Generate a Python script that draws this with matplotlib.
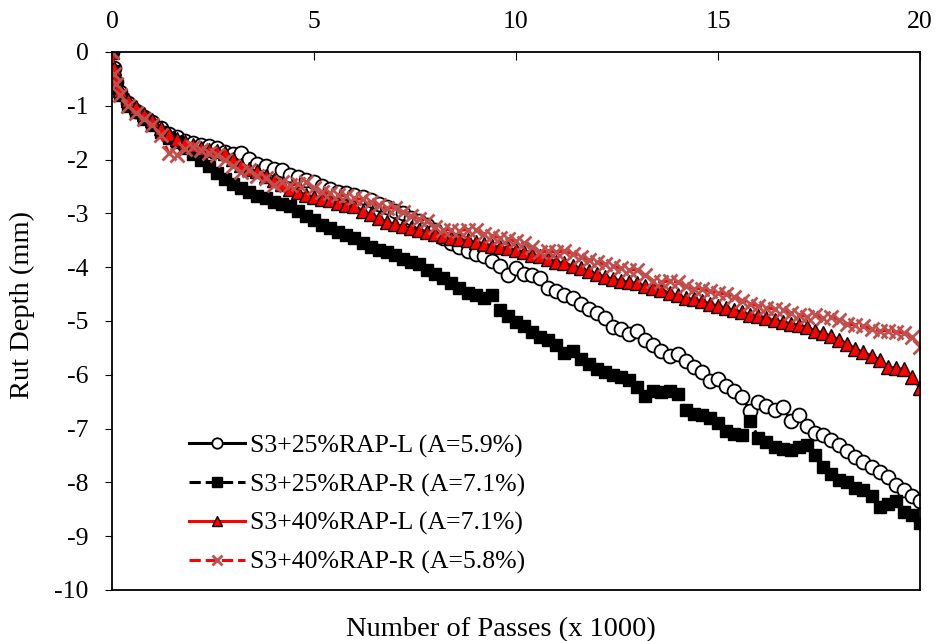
import numpy as np
import matplotlib.pyplot as plt

# passes (x 1000): a few early readings then every 200 passes
passes = np.concatenate([[0.0, 0.05, 0.1], np.round(np.arange(0.2, 20.01, 0.2), 1)])

rut_25_L = [0, -0.3, -0.55, -0.75, -0.95, -1.1, -1.2, -1.3, -1.42, -1.52, -1.58, -1.65,
            -1.7, -1.72, -1.75, -1.78, -1.85, -1.9, -1.88, -1.98, -2.08, -2.12, -2.18, -2.2,
            -2.28, -2.32, -2.38, -2.42, -2.5, -2.55, -2.6, -2.62, -2.66, -2.7, -2.75, -2.82,
            -2.88, -2.95, -3.0, -3.08, -3.15, -3.22, -3.3, -3.45, -3.55, -3.62, -3.7, -3.75,
            -3.8, -3.88, -3.98, -4.15, -4.02, -4.12, -4.15, -4.2, -4.38, -4.45, -4.52, -4.58,
            -4.68, -4.78, -4.85, -4.95, -5.12, -5.15, -5.25, -5.18, -5.35, -5.45, -5.55, -5.65,
            -5.62, -5.75, -5.85, -5.95, -6.12, -6.08, -6.2, -6.3, -6.42, -6.68, -6.5, -6.58,
            -6.65, -6.6, -6.85, -6.75, -6.95, -7.08, -7.12, -7.22, -7.3, -7.42, -7.52, -7.62,
            -7.72, -7.8, -7.9, -8.05, -8.15, -8.25, -8.35]

rut_25_R = [0, -0.35, -0.6, -0.8, -1.0, -1.12, -1.25, -1.35, -1.48, -1.6, -1.68, -1.78,
            -1.9, -2.0, -2.12, -2.25, -2.37, -2.45, -2.52, -2.6, -2.68, -2.72, -2.78, -2.82,
            -2.86, -2.95, -3.05, -3.12, -3.22, -3.28, -3.35, -3.4, -3.45, -3.55, -3.62, -3.68,
            -3.72, -3.78, -3.85, -3.9, -3.95, -4.05, -4.12, -4.2, -4.3, -4.38, -4.48, -4.52,
            -4.58, -4.52, -4.8, -4.9, -5.02, -5.1, -5.2, -5.3, -5.35, -5.45, -5.6, -5.55,
            -5.7, -5.8, -5.9, -5.95, -6.0, -6.05, -6.1, -6.22, -6.4, -6.3, -6.32, -6.3,
            -6.35, -6.65, -6.72, -6.75, -6.8, -6.9, -7.05, -7.1, -7.12, -6.85, -7.18, -7.25,
            -7.35, -7.38, -7.4, -7.35, -7.3, -7.5, -7.72, -7.85, -7.95, -8.0, -8.1, -8.15,
            -8.25, -8.45, -8.4, -8.35, -8.55, -8.6, -8.75]

rut_40_L = [0, -0.3, -0.5, -0.7, -0.9, -1.02, -1.15, -1.26, -1.42, -1.52, -1.62, -1.68,
            -1.72, -1.78, -1.82, -1.84, -1.87, -1.98, -2.1, -2.18, -2.22, -2.3, -2.38, -2.45,
            -2.55, -2.6, -2.65, -2.7, -2.74, -2.76, -2.8, -2.84, -2.86, -2.95, -3.02, -3.08,
            -3.16, -3.2, -3.24, -3.28, -3.3, -3.34, -3.38, -3.42, -3.45, -3.48, -3.5, -3.53,
            -3.56, -3.6, -3.62, -3.65, -3.68, -3.72, -3.77, -3.8, -3.84, -3.9, -3.93, -3.97,
            -4.02, -4.08, -4.12, -4.18, -4.22, -4.25, -4.28, -4.3, -4.35, -4.38, -4.42, -4.48,
            -4.52, -4.58, -4.6, -4.63, -4.68, -4.72, -4.76, -4.8, -4.84, -4.88, -4.9, -4.95,
            -4.98, -5.02, -5.05, -5.08, -5.12, -5.18, -5.22, -5.28, -5.35, -5.42, -5.52, -5.58,
            -5.65, -5.72, -5.85, -5.88, -5.9, -6.05, -6.25]

rut_40_R = [0, -0.4, -0.6, -0.8, -1.0, -1.13, -1.25, -1.35, -1.55, -1.87, -1.92, -1.8,
            -1.76, -1.82, -1.87, -1.92, -2.0, -2.12, -2.24, -2.2, -2.3, -2.35, -2.48, -2.42,
            -2.48, -2.45, -2.42, -2.52, -2.6, -2.62, -2.65, -2.68, -2.72, -2.74, -2.78, -2.85,
            -2.9, -2.9, -2.98, -3.05, -3.1, -3.15, -3.25, -3.3, -3.3, -3.32, -3.3, -3.3,
            -3.38, -3.42, -3.45, -3.48, -3.52, -3.55, -3.62, -3.72, -3.7, -3.72, -3.7, -3.75,
            -3.82, -3.86, -3.9, -3.95, -3.98, -4.02, -4.05, -4.05, -4.15, -4.25, -4.28, -4.25,
            -4.28, -4.35, -4.4, -4.4, -4.45, -4.48, -4.5, -4.55, -4.62, -4.68, -4.72, -4.75,
            -4.78, -4.8, -4.85, -4.88, -4.92, -4.88, -4.95, -4.92, -4.98, -5.05, -5.08, -5.1,
            -5.15, -5.18, -5.18, -5.2, -5.22, -5.3, -5.48]

labels = ["S3+25%RAP-L (A=5.9%)", "S3+25%RAP-R (A=7.1%)",
          "S3+40%RAP-L (A=7.1%)", "S3+40%RAP-R (A=5.8%)"]

plt.rcParams['font.family'] = ['Liberation Serif', 'DejaVu Serif']
plt.rcParams['axes.unicode_minus'] = False

fig = plt.figure(figsize=(9.36, 6.41), dpi=100)
ax = fig.add_axes([0.1197, 0.0796, 0.8632, 0.8393])

ax.plot(passes, rut_25_L, '-', color='black', lw=2.2, marker='o', ms=10,
        mfc='white', mec='black', mew=1.3, label=labels[0])
ax.plot(passes, rut_25_R, '--', color='black', lw=2.2, marker='s', ms=9,
        mfc='black', mec='black', label=labels[1])
ax.plot(passes, rut_40_L, '-', color='#FF0000', lw=2.2, marker='^', ms=10,
        mfc='#FF0000', mec='black', mew=1.0, label=labels[2])
ax.plot(passes, rut_40_R, '--', color='#FF0000', lw=2.2, marker='x', ms=10,
        mec='#C0504D', mew=2, label=labels[3])

ax.set_xlim(0, 20)
ax.set_ylim(-10, 0)
ax.set_xticks([0, 5, 10, 15, 20])
ax.set_yticks(range(-10, 1))
ax.xaxis.tick_top()
ax.xaxis.set_label_position('bottom')
ax.tick_params(axis='x', direction='in', length=6, labelsize=18.5, pad=14)
ax.tick_params(axis='y', direction='out', length=5, labelsize=18.5, pad=12)
for s in ax.spines.values():
    s.set_linewidth(1.3)

ax.set_xlabel("Number of Passes (x 1000)", fontsize=20.5)
ax.set_ylabel("Rut Depth (mm)", fontsize=20.5)
ax.xaxis.set_label_coords(0.481, -0.05)
ax.yaxis.set_label_coords(-0.095, 0.53)

ax.legend(loc='lower left', bbox_to_anchor=(0.082, 0.01), frameon=False,
          fontsize=18.5, handlelength=2.2, markerscale=0.75, labelspacing=0.6,
          handletextpad=0.2, borderaxespad=0)

fig.savefig('out.png', dpi=100, facecolor='white')
